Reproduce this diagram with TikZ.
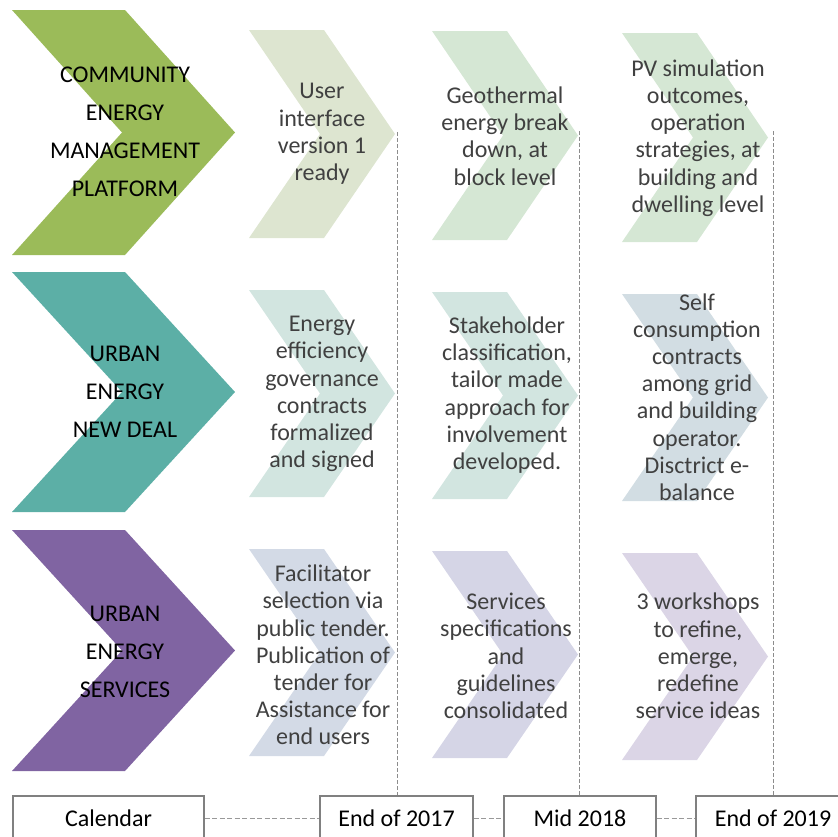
\documentclass[tikz,border=0pt]{standalone}
\usepackage{fontspec}
\setmainfont{Carlito}
\usepackage{xcolor}
\usepackage{tikz}

\definecolor{cempgreen}{HTML}{9BBB59}
\definecolor{uendteal}{HTML}{5CAFA6}
\definecolor{uespurple}{HTML}{8064A2}
\definecolor{txtgray}{HTML}{404040}

\definecolor{lgA}{HTML}{DDE5D0}
\definecolor{lgB}{HTML}{D5E7D4}
\definecolor{ltA}{HTML}{D2E5E0}
\definecolor{ltB}{HTML}{D2DDE3}
\definecolor{lpA}{HTML}{D3DAE6}
\definecolor{lpB}{HTML}{D5D5E6}
\definecolor{lpC}{HTML}{DBD5E6}

% chevron: colour, left x, top y, bottom y, top edge, depth
\newcommand{\chevron}[6]{%
	\fill[#1] (#2,#3) -- (#2+#5,#3) -- (#2+#5+#6,{(#3+#4)/2}) -- (#2+#5,#4) -- (#2,#4) -- (#2+#6,{(#3+#4)/2}) -- cycle;}

\tikzset{
	bigtext/.style={align=center, font=\fontsize{24}{38}\selectfont, text=black},
	steptext/.style={align=center, font=\fontsize{24}{27.2}\selectfont, text=txtgray},
	datebox/.style={draw=black!50, line width=1.2pt, minimum height=44pt, inner sep=0pt, font=\fontsize{24}{27}\selectfont},
	timeline/.style={black!40, line width=1pt, dash pattern=on 5pt off 2.5pt},
	milestone/.style={black!45, line width=1pt, dash pattern=on 4pt off 2pt}
}

\begin{document}
\begin{tikzpicture}[x=1pt, y=-1pt]
				\useasboundingbox (0,0) rectangle (838,836);
				\clip (0,0) rectangle (838,836);

				\chevron{cempgreen}{12}{10}{255}{113}{110}
				\chevron{uendteal}{12}{272}{512}{113}{110}
				\chevron{uespurple}{12}{530}{771}{113}{110}

				\chevron{lgA}{249}{30}{238}{75}{71}
				\chevron{lgB}{432}{31}{240}{75}{71}
				\chevron{lgB}{622}{33}{242}{75}{71}

				\chevron{ltA}{249}{290}{497}{75}{71}
				\chevron{ltA}{432}{292}{499}{75}{71}
				\chevron{ltB}{622}{294}{501}{75}{71}

				\chevron{lpA}{249}{549}{756}{75}{71}
				\chevron{lpB}{432}{551}{758}{75}{71}
				\chevron{lpC}{622}{553}{760}{75}{71}

				\node[bigtext] (cemp) at (125,132) {COMMUNITY\\ENERGY\\MANAGEMENT\\PLATFORM};
				\node[bigtext] (uend) at (125,392) {URBAN\\ENERGY\\NEW DEAL};
				\node[bigtext] (ues) at (125,652) {URBAN\\ENERGY\\SERVICES};

				\node[steptext] (uiready) at (322,134) {User\\interface\\version 1\\ready};
				\node[steptext] (geoblock) at (505,136) {Geothermal\\energy break\\down, at\\block level};
				\node[steptext] (pvsim) at (698,138) {PV simulation\\outcomes,\\operation\\strategies, at\\building and\\dwelling level};

				\node[steptext] (effgov) at (322,394) {Energy\\efficiency\\governance\\contracts\\formalized\\and signed};
				\node[steptext] (stakeh) at (507,395) {Stakeholder\\classification,\\tailor made\\approach for\\involvement\\developed.};
				\node[steptext] (selfcons) at (697,397) {Self\\consumption\\contracts\\among grid\\and building\\operator.\\Disctrict e-\\balance};

				\node[steptext] (facil) at (323,655) {Facilitator\\selection via\\public tender.\\Publication of\\tender for\\Assistance for\\end users};
				\node[steptext] (servspec) at (506,656) {Services\\specifications\\and\\guidelines\\consolidated};
				\node[steptext] (workshops) at (698,656) {3 workshops\\to refine,\\emerge,\\redefine\\service ideas};

				\node[datebox, minimum width=191pt] (cal) at (108.5,818) {Calendar};
				\node[datebox, minimum width=153pt] (end17) at (396.5,818) {End of 2017};
				\node[datebox, minimum width=152pt] (mid18) at (580,818) {Mid 2018};
				\node[datebox, minimum width=154pt] (end19) at (773,818) {End of 2019};

				\coordinate (tip17) at (397,132);
				\coordinate (tip18) at (579,131);
				\coordinate (tip19) at (773,131);

				\draw[timeline] (cal) -- (end17);
				\draw[timeline] (end17) -- (mid18);
				\draw[timeline] (mid18) -- (end19);

				\draw[milestone] (tip17) -- (tip17 |- end17.north);
				\draw[milestone] (tip18) -- (tip18 |- mid18.north);
				\draw[milestone] (tip19) -- (tip19 |- end19.north);
			\end{tikzpicture}
\end{document}
